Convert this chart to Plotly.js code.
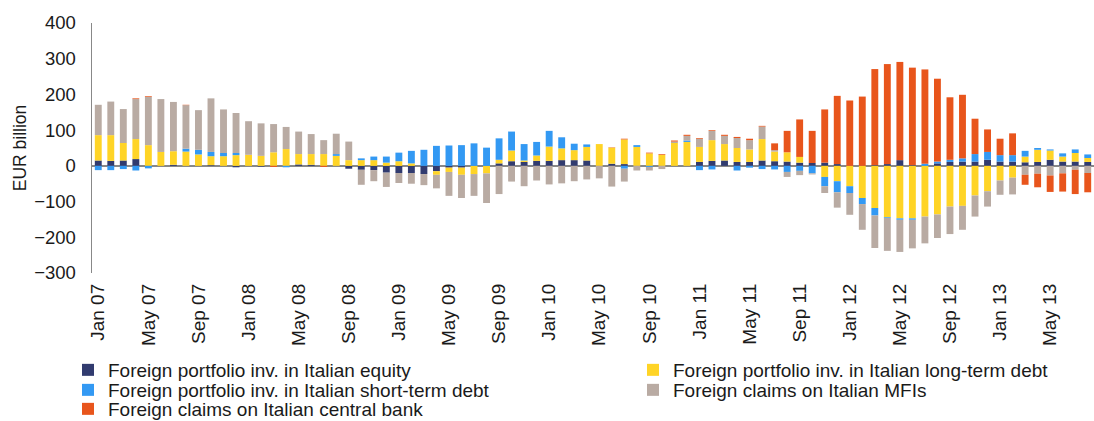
<!DOCTYPE html>
<html>
<head>
<meta charset="utf-8">
<script src="https://cdn.plot.ly/plotly-3.0.1.min.js"></script>
<style>html,body{margin:0;padding:0;background:#fff;}#chart{width:1094px;height:421px;}</style>
</head>
<body>
<div id="chart"></div>
<script>
const months = [
"Jan 07","Feb 07","Mar 07","Apr 07","May 07","Jun 07","Jul 07","Aug 07","Sep 07","Oct 07","Nov 07","Dec 07",
"Jan 08","Feb 08","Mar 08","Apr 08","May 08","Jun 08","Jul 08","Aug 08","Sep 08","Oct 08","Nov 08","Dec 08",
"Jan 09","Feb 09","Mar 09","Apr 09","May 09","Jun 09","Jul 09","Aug 09","Sep 09","Oct 09","Nov 09","Dec 09",
"Jan 10","Feb 10","Mar 10","Apr 10","May 10","Jun 10","Jul 10","Aug 10","Sep 10","Oct 10","Nov 10","Dec 10",
"Jan 11","Feb 11","Mar 11","Apr 11","May 11","Jun 11","Jul 11","Aug 11","Sep 11","Oct 11","Nov 11","Dec 11",
"Jan 12","Feb 12","Mar 12","Apr 12","May 12","Jun 12","Jul 12","Aug 12","Sep 12","Oct 12","Nov 12","Dec 12",
"Jan 13","Feb 13","Mar 13","Apr 13","May 13","Jun 13","Jul 13","Aug 13"];

const tickLabels = ["Jan 07","May 07","Sep 07","Jan 08","May 08","Sep 08","Jan 09","May 09","Sep 09","Jan 10","May 10","Sep 10","Jan 11","May 11","Sep 11","Jan 12","May 12","Sep 12","Jan 13","May 13"];

// Foreign portfolio inv. in Italian equity
const equity = [
15,14,15,19,0,0,3,0,0,2,0,-4,
0,-2,0,0,4,3,0,0,-8,-11,-12,-19,
-20,-20,-23,-15,-5,-5,0,0,7,13,11,14,
14,16,16,15,0,6,5,0,0,0,0,0,
11,14,15,11,11,15,13,12,9,8,9,5,
0,0,2,5,16,2,0,7,11,12,12,17,
12,12,10,11,17,12,12,11];

// Foreign portfolio inv. in Italian long-term debt
const longTermDebt = [
71,72,49,56,58,39,38,40,32,25,27,30,
31,28,38,47,29,30,33,28,16,16,16,9,
13,7,0,-10,-12,-20,-23,-21,10,30,4,15,
40,33,28,38,61,45,69,53,35,31,64,67,
42,58,46,39,35,60,27,26,16,0,-31,-43,
-57,-90,-118,-144,-147,-147,-142,-136,-114,-112,-83,-71,
-41,-33,16,34,26,14,24,11];

// Foreign portfolio inv. in Italian short-term debt
const shortTermDebt = [
-12,-12,-9,-13,-7,0,0,8,13,12,9,6,
0,0,0,-4,0,0,0,5,0,5,10,17,
24,35,45,56,57,58,63,51,60,53,46,38,
44,31,18,7,0,0,-8,5,-3,0,0,4,
-12,-10,0,-13,-5,-9,-10,-17,-14,-21,-26,-31,
-19,-17,-21,-2,-4,-4,6,5,6,9,21,22,
18,18,16,5,3,9,10,10];

// Foreign claims on Italian MFIs
const mfiClaims = [
85,94,95,112,135,148,138,122,111,150,122,112,
94,91,79,62,63,56,39,57,52,-42,-31,-40,
-28,-30,-31,-38,-67,-65,-61,-83,-79,-44,-57,-41,
-52,-49,-43,-38,-35,-58,-36,-13,-10,-9,4,13,
23,26,23,28,26,35,4,-14,-12,-3,-19,-43,
-61,-72,-91,-92,-90,-80,-75,-66,-77,-67,-59,-43,
-40,-47,-25,-22,-27,-21,-11,-20];

// Foreign claims on Italian central bank
const centralBank = [
0,0,0,2,2,0,0,1,0,0,0,0,
0,0,-3,0,0,0,-3,0,0,0,0,0,
0,0,0,0,0,0,0,0,0,0,0,0,
0,0,0,0,0,1,2,0,2,2,3,3,
2,2,3,3,4,2,19,60,105,90,149,191,
183,194,269,280,275,273,264,232,175,178,99,63,
46,61,-28,-38,-46,-51,-68,-54];

const seriesNames = [
"Foreign portfolio inv. in Italian equity",
"Foreign portfolio inv. in Italian long-term debt",
"Foreign portfolio inv. in Italian short-term debt",
"Foreign claims on Italian MFIs",
"Foreign claims on Italian central bank"];
const seriesColors = ["#313B6F","#FFD426","#3399F3","#B9ABA3","#E8551C"];
const seriesValues = [equity, longTermDebt, shortTermDebt, mfiClaims, centralBank];
const legendIds = ["legend","legend2","legend3","legend4","legend5"];

const traces = seriesValues.map((vals, i) => ({
  type: "bar",
  name: seriesNames[i],
  x: months,
  y: vals,
  legend: legendIds[i],
  marker: {color: seriesColors[i], line: {width: 0}},
  hoverinfo: "skip"
}));

const W = 1094, H = 421;
const FONT = "Liberation Sans, Arial, sans-serif";
// legend slot: [left px, top px]
const legendSlots = [[68, 351], [633, 351], [68, 371], [633, 371], [68, 390]];

const layout = {
  width: W, height: H,
  margin: {l: 92, r: 0, t: 23, b: 148, autoexpand: false},
  paper_bgcolor: "#fff", plot_bgcolor: "#fff",
  barmode: "relative",
  bargap: 0.45,
  font: {family: FONT, size: 18, color: "#1a1a1a"},
  showlegend: true,
  xaxis: {
    type: "category",
    categoryorder: "array", categoryarray: months,
    range: [-0.5, months.length - 0.5],
    tickmode: "array", tickvals: tickLabels, ticktext: tickLabels,
    tickangle: -90,
    ticks: "", showline: false, showgrid: false, zeroline: false,
    ticklabelstandoff: 6,
    tickfont: {family: FONT, size: 19, color: "#1a1a1a"},
    fixedrange: true
  },
  yaxis: {
    range: [-300, 400], dtick: 100, tick0: 0,
    showgrid: false,
    zeroline: true, zerolinecolor: "#888888", zerolinewidth: 2,
    showline: true, linecolor: "#888888", linewidth: 1.5,
    ticks: "",
    ticklabelstandoff: 11,
    tickfont: {family: FONT, size: 18.5, color: "#1a1a1a"},
    title: {text: "EUR billion", font: {family: FONT, size: 17.5, color: "#1a1a1a"}, standoff: 3},
    fixedrange: true
  }
};

legendIds.forEach((id, i) => {
  layout[id] = {
    xref: "container", yref: "container",
    x: legendSlots[i][0] / W, xanchor: "left",
    y: 1 - legendSlots[i][1] / H, yanchor: "top",
    orientation: "h",
    itemwidth: 30,
    bgcolor: "rgba(0,0,0,0)",
    borderwidth: 0,
    font: {family: FONT, size: 19, color: "#1a1a1a"}
  };
});

Plotly.newPlot("chart", traces, layout, {staticPlot: true, displayModeBar: false});
</script>
</body>
</html>
